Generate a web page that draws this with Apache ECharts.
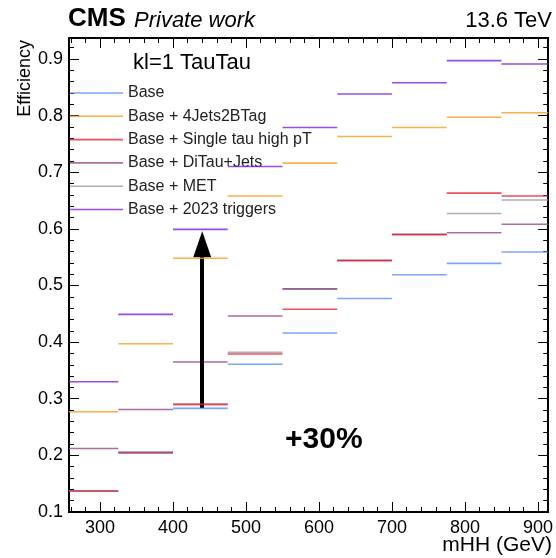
<!DOCTYPE html>
<html>
<head>
<meta charset="utf-8">
<script src="https://cdn.jsdelivr.net/npm/echarts@6/dist/echarts.min.js"></script>
<style>
  html, body { margin: 0; padding: 0; background: #fff; }
  #chart { width: 556px; height: 558px; }
</style>
</head>
<body>
<div id="chart"></div>
<script>
// ---------------- data ----------------
const binEdges = [250, 325, 400, 475, 550, 625, 700, 775, 850, 925];
const seriesNames = ['Base', 'Base + 4Jets2BTag', 'Base + Single tau high pT', 'Base + DiTau+Jets', 'Base + MET', 'Base + 2023 triggers'];
const effBase    = [0.137, 0.204, 0.283, 0.361, 0.416, 0.477, 0.519, 0.539, 0.559];
const eff4Jets   = [0.277, 0.397, 0.548, 0.658, 0.716, 0.763, 0.779, 0.797, 0.805];
const effSingle  = [0.137, 0.205, 0.290, 0.379, 0.458, 0.544, 0.590, 0.663, 0.658];
const effDiTau   = [0.212, 0.281, 0.365, 0.446, 0.494, 0.544, 0.590, 0.593, 0.608];
const effMET     = [0.137, 0.206, 0.290, 0.382, 0.494, 0.544, 0.590, 0.627, 0.651];
const eff2023    = [0.330, 0.449, 0.599, 0.710, 0.779, 0.838, 0.858, 0.897, 0.891];
const xTicks = [300, 400, 500, 600, 700, 800, 900];
const yTicks = [0.1, 0.2, 0.3, 0.4, 0.5, 0.6, 0.7, 0.8, 0.9];
const arrowX = 440;
const arrowFrom = 0.284;
const arrowTo = 0.573;

// ---------------- style ----------------
const XMIN = 257.5, XMAX = 914;
const YMIN = 0.1, YMAX = 0.937;
const colors = ['#5790fc', '#f89c20', '#e42536', '#964a8b', '#9c9ca1', '#7a21dd'];
const zOrder = [2, 6, 5, 4, 3, 7];
const FONT = '"Liberation Sans", Arial, Helvetica, sans-serif';

const allValues = [effBase, eff4Jets, effSingle, effDiTau, effMET, eff2023];

function minorList(majors, step, lo, hi) {
  const out = [];
  const d = (majors[1] - majors[0]) / step;
  let v = majors[0];
  while (v - d >= lo - 1e-9) v -= d;
  for (; v <= hi + 1e-9; v += d) out.push(+v.toFixed(6));
  return out;
}
const xMinor = minorList(xTicks, 5, XMIN, XMAX);
const yMinor = minorList(yTicks, 5, YMIN, YMAX);

function renderSeg(params, api) {
  const cs = params.coordSys;
  const p0 = api.coord([api.value(0), api.value(2)]);
  const p1 = api.coord([api.value(1), api.value(2)]);
  const x1 = Math.max(p0[0], cs.x);
  const x2 = Math.min(p1[0], cs.x + cs.width);
  return {
    type: 'line',
    shape: { x1: x1, y1: p0[1], x2: x2, y2: p1[1] },
    style: { stroke: api.visual('color'), lineWidth: 1.6, opacity: 0.8 }
  };
}

const series = seriesNames.map((name, i) => {
  const data = allValues[i].map((v, b) => [binEdges[b], binEdges[b + 1], v]);
  const s = {
    name: name,
    type: 'custom',
    renderItem: renderSeg,
    data: data,
    encode: { x: [0, 1], y: 2 },
    itemStyle: { color: colors[i], opacity: 0.8 },
    z: zOrder[i],
    silent: true
  };
  if (i === seriesNames.length - 1) {
    s.markLine = {
      silent: true,
      symbol: ['none', 'triangle'],
      symbolSize: [18, 26],
      lineStyle: { color: '#000', width: 4, type: 'solid', opacity: 1 },
      itemStyle: { color: '#000', opacity: 1 },
      label: { show: false },
      animation: false,
      data: [[{ coord: [arrowX, arrowFrom] }, { coord: [arrowX, arrowTo] }]]
    };
  }
  return s;
});

function xAx(pos, ticks, len, showLine, showLabel) {
  return {
    type: 'value', position: pos, min: XMIN, max: XMAX,
    axisLine: { show: showLine, onZero: false, lineStyle: { color: '#000', width: 2 } },
    axisTick: { show: true, inside: true, length: len, customValues: ticks, lineStyle: { color: '#000', width: 1 } },
    axisLabel: showLabel ? { show: true, customValues: xTicks, color: '#000', fontSize: 18, fontFamily: FONT, margin: 7 } : { show: false },
    splitLine: { show: false }
  };
}
function yAx(pos, ticks, len, showLine, showLabel) {
  return {
    type: 'value', position: pos, min: YMIN, max: YMAX,
    axisLine: { show: showLine, onZero: false, lineStyle: { color: '#000', width: 2 } },
    axisTick: { show: true, inside: true, length: len, customValues: ticks, lineStyle: { color: '#000', width: 1 } },
    axisLabel: showLabel ? { show: true, customValues: yTicks, color: '#000', fontSize: 18, fontFamily: FONT, margin: 6,
      formatter: v => (+v).toFixed(1) } : { show: false },
    splitLine: { show: false }
  };
}

const chart = echarts.init(document.getElementById('chart'), null, { renderer: 'canvas' });
chart.setOption({
  animation: false,
  backgroundColor: '#fff',
  grid: { left: 69, right: 4, top: 38, bottom: 46, containLabel: false },
  xAxis: [
    xAx('bottom', xTicks, 10, true, true),
    xAx('bottom', xMinor, 5, false, false),
    xAx('top', xTicks, 10, true, false),
    xAx('top', xMinor, 5, false, false)
  ],
  yAxis: [
    yAx('left', yTicks, 10, true, true),
    yAx('left', yMinor, 5, false, false),
    yAx('right', yTicks, 10, true, false),
    yAx('right', yMinor, 5, false, false)
  ],
  legend: {
    show: true,
    orient: 'vertical',
    left: 70, top: 84,
    padding: 0,
    itemWidth: 53, itemHeight: 1.6,
    itemGap: 5.3,
    icon: 'rect',
    selectedMode: false,
    data: seriesNames,
    textStyle: { fontSize: 16, fontFamily: FONT, color: '#222', lineHeight: 18 }
  },
  graphic: [
    { type: 'text', left: 68, top: 6, style: { text: 'CMS', font: 'bold 26px ' + FONT, fill: '#000' } },
    { type: 'text', left: 134, top: 10, style: { text: 'Private work', font: 'italic 22px ' + FONT, fill: '#000' } },
    { type: 'text', right: 4, top: 10, style: { text: '13.6 TeV', font: '22px ' + FONT, fill: '#000' } },
    { type: 'text', left: 133, top: 52, style: { text: 'kl=1 TauTau', font: '22px ' + FONT, fill: '#000' } },
    { type: 'text', left: 285, top: 425, style: { text: '+30%', font: 'bold 30px ' + FONT, fill: '#000' } },
    { type: 'text', right: 4, top: 535, style: { text: 'mHH (GeV)', font: '21px ' + FONT, fill: '#000' } },
    { type: 'text', x: 25, y: 40, rotation: Math.PI / 2,
      style: { text: 'Efficiency', font: '18px ' + FONT, fill: '#000', align: 'right', verticalAlign: 'middle' } }
  ],
  series: series
});
</script>
</body>
</html>
